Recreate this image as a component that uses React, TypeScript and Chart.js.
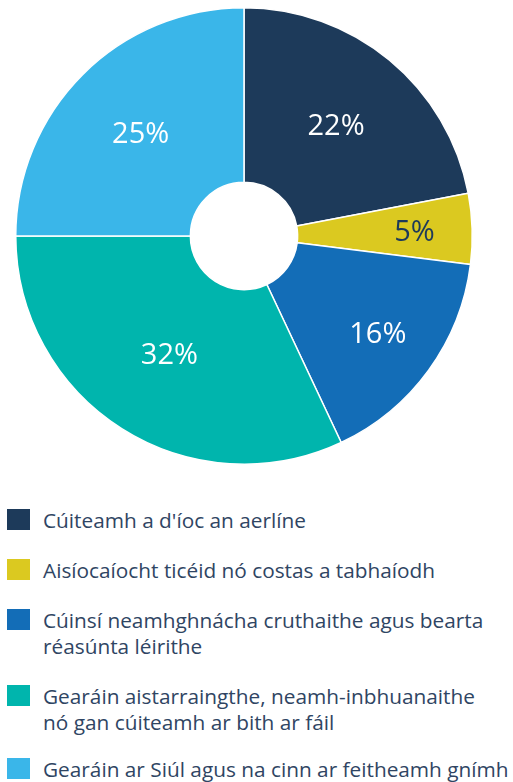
import React, { useEffect, useRef } from "react";
import { Chart, registerables } from "chart.js";

Chart.register(...registerables);

const categories: string[][] = [
  ["Cúiteamh a d'íoc an aerlíne"],
  ["Aisíocaíocht ticéid nó costas a tabhaíodh"],
  ["Cúinsí neamhghnácha cruthaithe agus bearta", "réasúnta léirithe"],
  ["Gearáin aistarraingthe, neamh-inbhuanaithe", "nó gan cúiteamh ar bith ar fáil"],
  ["Gearáin ar Siúl agus na cinn ar feitheamh gnímh"],
];
const values: number[] = [22, 5, 16, 32, 25];
const valueLabels: string[] = ["22%", "5%", "16%", "32%", "25%"];
const colors: string[] = ["#1d3a5a", "#dbc920", "#136db7", "#00b5ad", "#3ab6e9"];
const labelColors: string[] = ["#ffffff", "#1d3a5a", "#ffffff", "#ffffff", "#ffffff"];

const FONT = "'Open Sans', sans-serif";
const TEXT = "#2f4563";

const sliceLabelPlugin = {
  id: "sliceLabels",
  afterDatasetsDraw(chart: any, _args: any, opts: any) {
    const ctx = chart.ctx;
    const meta = chart.getDatasetMeta(0);
    const factors: number[] = opts.radiusFactors || [];
    meta.data.forEach((arc: any, i: number) => {
      const { startAngle, endAngle, innerRadius, outerRadius, x, y } = arc.getProps(
        ["startAngle", "endAngle", "innerRadius", "outerRadius", "x", "y"],
        true
      );
      const mid = (startAngle + endAngle) / 2;
      const r = innerRadius + (outerRadius - innerRadius) * (factors[i] ?? 0.5);
      ctx.save();
      ctx.fillStyle = labelColors[i];
      ctx.font = `500 29px ${FONT}`;
      ctx.textAlign = "center";
      ctx.textBaseline = "middle";
      ctx.fillText(valueLabels[i], x + Math.cos(mid) * r, y + Math.sin(mid) * r + 2);
      ctx.restore();
    });
  },
};

export default function App() {
  const canvasRef = useRef<HTMLCanvasElement | null>(null);

  useEffect(() => {
    if (!canvasRef.current) return;
    const chart = new Chart(canvasRef.current, {
      type: "doughnut",
      data: {
        labels: categories.map((c) => c.join(" ")),
        datasets: [
          {
            data: values,
            backgroundColor: colors,
            borderColor: "#ffffff",
            borderWidth: 1.5,
            hoverOffset: 0,
          },
        ],
      },
      options: {
        animation: false,
        responsive: true,
        maintainAspectRatio: false,
        cutout: "23.5%",
        layout: { padding: 7 },
        plugins: {
          legend: { display: false },
          tooltip: { enabled: false },
          sliceLabels: { radiusFactors: [0.52, 0.67, 0.64, 0.49, 0.53] },
        } as any,
      },
      plugins: [sliceLabelPlugin],
    });
    return () => chart.destroy();
  }, []);

  return (
    <div style={{ position: "absolute", left: 0, top: 0, width: 513, fontFamily: FONT }}>
      <div style={{ position: "relative", width: 488, height: 472 }}>
        <canvas ref={canvasRef} />
      </div>
      <div style={{ marginTop: 35 }}>
        {categories.map((lines, i) => (
          <div
            key={i}
            style={{ display: "flex", alignItems: "flex-start", marginBottom: i === 3 ? 21 : 24 }}
          >
            <div
              style={{
                width: 23,
                height: 21,
                background: colors[i],
                marginLeft: 7,
                marginTop: 2,
                flex: "0 0 auto",
              }}
            />
            <div
              style={{
                marginLeft: 13,
                color: TEXT,
                fontSize: 20.8,
                lineHeight: "26px",
                whiteSpace: "nowrap",
              }}
            >
              {lines.map((l, j) => (
                <div key={j}>{l}</div>
              ))}
            </div>
          </div>
        ))}
      </div>
    </div>
  );
}
